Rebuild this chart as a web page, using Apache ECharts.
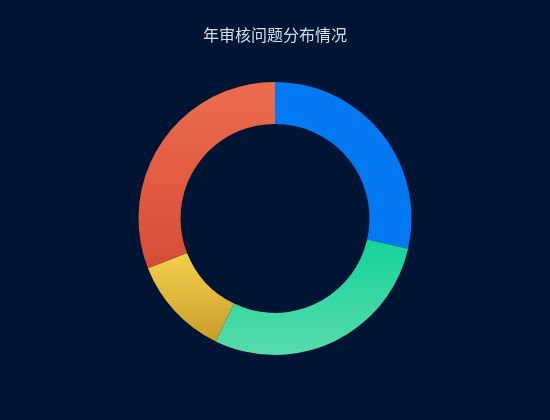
<!DOCTYPE html>
<html>
<head>
<meta charset="utf-8">
<script src="https://cdn.jsdelivr.net/npm/echarts@6/dist/echarts.min.js"></script>
<style>
html,body{margin:0;padding:0;background:#001533;}
#main{width:550px;height:420px;}
</style>
</head>
<body>
<div id="main"></div>
<script>
const titleText = '年审核问题分布情况';
const categories = ['问题类型一', '问题类型二', '问题类型三', '问题类型四'];
const values = [12, 12, 5, 13];
const colorStops = [
  ['#0279f2', '#0279f2'],
  ['#14d399', '#58dbac'],
  ['#f3d24c', '#c99d2a'],
  ['#ed6c4e', '#d84c36']
];

const chart = echarts.init(document.getElementById('main'));
chart.setOption({
  backgroundColor: '#001533',
  title: {
    text: titleText,
    left: 'center',
    top: 22,
    textStyle: { color: '#d6deea', fontSize: 16, fontWeight: 'normal', fontFamily: 'Noto Sans CJK SC' }
  },
  series: [{
    type: 'pie',
    radius: ['45%', '65%'],
    center: ['50%', '52%'],
    startAngle: 90,
    clockwise: true,
    label: { show: false },
    labelLine: { show: false },
    emphasis: { disabled: true },
    data: categories.map((c, i) => ({
      name: c,
      value: values[i],
      itemStyle: {
        color: new echarts.graphic.LinearGradient(0, 0, 0, 1, [
          { offset: 0, color: colorStops[i][0] },
          { offset: 1, color: colorStops[i][1] }
        ])
      }
    }))
  }]
});
</script>
</body>
</html>
